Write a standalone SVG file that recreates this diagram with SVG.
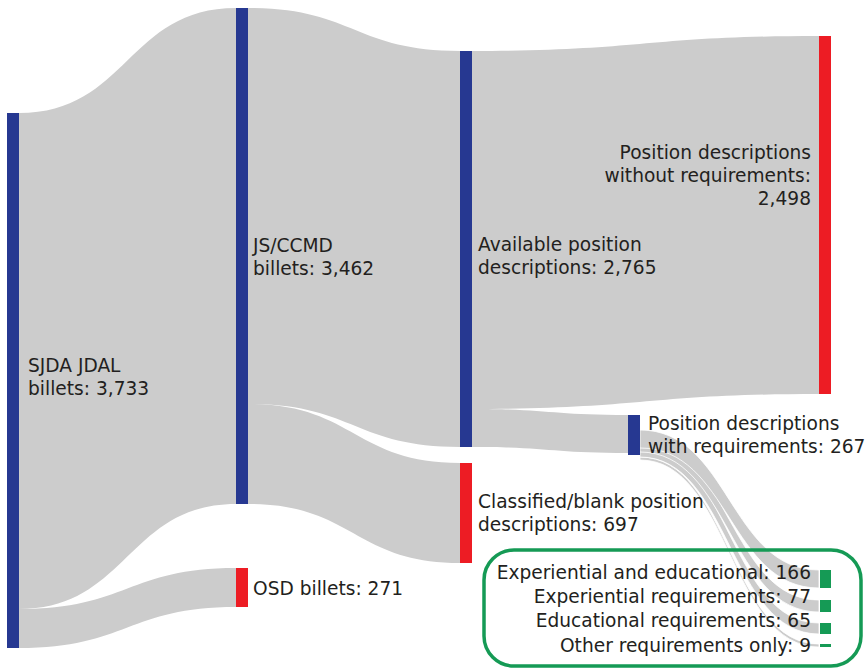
<svg xmlns="http://www.w3.org/2000/svg" width="868" height="672" viewBox="0 0 868 672">
  <style>
    .link { fill: #cccccc; }
    .sub { fill: #cccccc; stroke: #ffffff; stroke-width: 0.8; }
    .blue { fill: #263891; }
    .red { fill: #ed1c24; }
    .green { fill: #159a55; }
    .lbl { font-family: "DejaVu Sans", "Open Sans", sans-serif; font-size: 18.6px; fill: #231f20; }
    .end { text-anchor: end; }
    .frame { fill: none; stroke: #159a55; stroke-width: 3.5; }
  </style>

  <!-- flows between stages -->
  <g id="links">
    <path class="link" d="M19,113 C127.5,113 127.5,8 236,8 L236,504 C127.5,504 127.5,609 19,609 Z"/>
    <path class="link" d="M19,609 C127.5,609 127.5,568 236,568 L236,607 C127.5,607 127.5,648 19,648 Z"/>
    <path class="link" d="M248,8 C354,8 354,51 460,51 L460,447 C354,447 354,404 248,404 Z"/>
    <path class="link" d="M248,404 C354,404 354,463 460,463 L460,563 C354,563 354,504 248,504 Z"/>
    <path class="link" d="M472,51 C645.5,51 645.5,36 819,36 L819,394 C645.5,394 645.5,409 472,409 Z"/>
    <path class="link" d="M472,409 C550,409 550,415 628,415 L628,453 C550,453 550,447 472,447 Z"/>
    <!-- requirement breakdown -->
    <path class="sub" d="M640,457 C729.5,457 729.5,644 819,644 L819,647 C729.5,647 729.5,460 640,460 Z"/>
    <path class="sub" d="M640,446 C729.5,446 729.5,623 819,623 L819,634 C729.5,634 729.5,457 640,457 Z"/>
    <path class="sub" d="M640,440 C729.5,440 729.5,600 819,600 L819,612 C729.5,612 729.5,452 640,452 Z"/>
    <path class="sub" d="M640,430 C729.5,430 729.5,570 819,570 L819,588 C729.5,588 729.5,448 640,448 Z"/>
  </g>

  <g id="n-sjda"><rect class="blue" x="7" y="113" width="12" height="535"/></g>
  <g id="n-jsccmd"><rect class="blue" x="236" y="8" width="12" height="496"/></g>
  <g id="n-osd"><rect class="red" x="236" y="568" width="12" height="39"/></g>
  <g id="n-available"><rect class="blue" x="460" y="51" width="12" height="396"/></g>
  <g id="n-classified"><rect class="red" x="460" y="463" width="12" height="100"/></g>
  <g id="n-without"><rect class="red" x="819" y="36" width="12" height="358"/></g>
  <g id="n-with"><rect class="blue" x="628" y="415" width="12" height="40"/></g>
  <g id="n-expedu"><rect class="green" x="820" y="570" width="11" height="18"/></g>
  <g id="n-exp"><rect class="green" x="820" y="600" width="11" height="12"/></g>
  <g id="n-edu"><rect class="green" x="820" y="623" width="11" height="11"/></g>
  <g id="n-other"><rect class="green" x="820" y="644" width="11" height="3"/></g>

  <rect id="req-frame" class="frame" x="484" y="550" width="377" height="116" rx="30" ry="30"/>

  <g id="labels">
    <text class="lbl" x="28" y="372"><tspan x="28">SJDA JDAL</tspan><tspan x="28" dy="23">billets: 3,733</tspan></text>
    <text class="lbl" x="253" y="252"><tspan x="253">JS/CCMD</tspan><tspan x="253" dy="22.5">billets: 3,462</tspan></text>
    <text class="lbl" x="253" y="595">OSD billets: 271</text>
    <text class="lbl" x="478" y="250.5"><tspan x="478">Available position</tspan><tspan x="478" dy="23">descriptions: 2,765</tspan></text>
    <text class="lbl" x="478" y="508"><tspan x="478">Classified/blank position</tspan><tspan x="478" dy="23">descriptions: 697</tspan></text>
    <text class="lbl end" x="811" y="158.5"><tspan x="811">Position descriptions</tspan><tspan x="811" dy="23">without requirements:</tspan><tspan x="811" dy="23">2,498</tspan></text>
    <text class="lbl" x="648" y="430"><tspan x="648">Position descriptions</tspan><tspan x="648" dy="23">with requirements: 267</tspan></text>
    <text class="lbl end" x="811" y="578.5"><tspan x="811">Experiential and educational: 166</tspan><tspan x="811" dy="24.5">Experiential requirements: 77</tspan><tspan x="811" dy="24">Educational requirements: 65</tspan><tspan x="811" dy="24.5">Other requirements only: 9</tspan></text>
  </g>
</svg>
